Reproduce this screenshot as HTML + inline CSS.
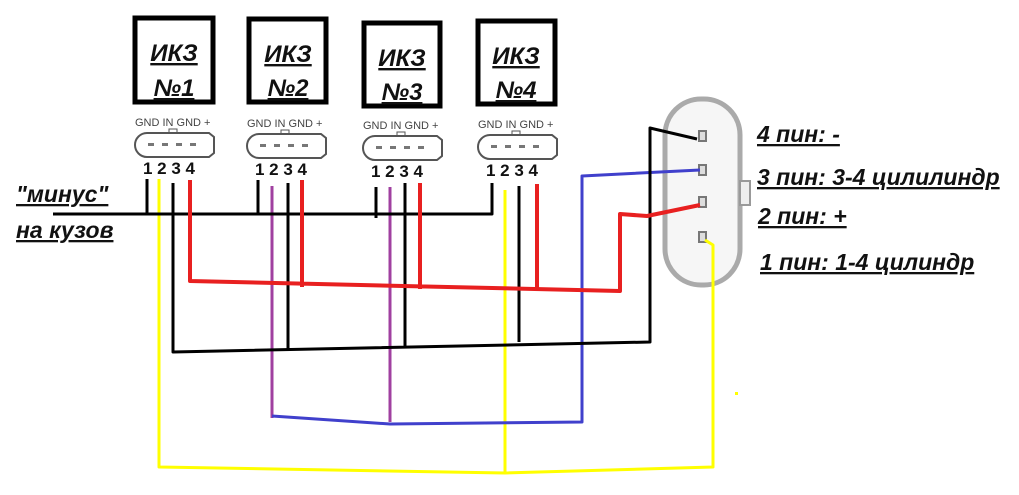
<!DOCTYPE html>
<html><head><meta charset="utf-8"><style>
html,body{margin:0;padding:0;background:#fff;width:1019px;height:495px;overflow:hidden}
svg{display:block}
.t{font-family:"Liberation Sans","DejaVu Sans",sans-serif;font-weight:bold;font-style:italic;text-decoration:underline;fill:#111}
.s{font-family:"Liberation Sans",sans-serif;font-size:11px;fill:#444}
.n{font-family:"Liberation Sans",sans-serif;font-size:17px;font-weight:bold;fill:#111}
</style></head><body>
<svg width="1019" height="495" viewBox="0 0 1019 495" xmlns="http://www.w3.org/2000/svg">
<g fill="none" stroke="#000" stroke-width="5">
<rect x="135" y="18" width="78" height="84"/>
<rect x="249" y="19" width="77" height="83"/>
<rect x="364" y="23" width="76" height="83"/>
<rect x="478" y="21" width="77" height="83"/>
</g>
<g class="t" font-size="24" text-anchor="middle">
<text x="174" y="61">ИКЗ</text><text x="174" y="96">№1</text>
<text x="288" y="62">ИКЗ</text><text x="288" y="96">№2</text>
<text x="402" y="66">ИКЗ</text><text x="402" y="100">№3</text>
<text x="516" y="64">ИКЗ</text><text x="516" y="98">№4</text>
</g>
<g>
<g transform="translate(133,0)">
<text class="s" x="2" y="126">GND  IN  GND  +</text>
<path d="M2 145 a12 12 0 0 1 12-12 h62 l5 4 v16 l-5 4 h-62 a12 12 0 0 1-12-12z" fill="none" stroke="#555" stroke-width="2"/>
<rect x="36" y="129" width="8" height="4" fill="none" stroke="#555"/>
<g fill="#777"><rect x="15" y="143" width="6" height="3"/><rect x="29" y="143" width="6" height="3"/><rect x="43" y="143" width="6" height="3"/><rect x="57" y="143" width="6" height="3"/></g>
<text class="n" x="10" y="174">1 2 3 4</text></g>
<g transform="translate(245,1)">
<text class="s" x="2" y="126">GND  IN  GND  +</text>
<path d="M2 145 a12 12 0 0 1 12-12 h62 l5 4 v16 l-5 4 h-62 a12 12 0 0 1-12-12z" fill="none" stroke="#555" stroke-width="2"/>
<rect x="36" y="129" width="8" height="4" fill="none" stroke="#555"/>
<g fill="#777"><rect x="15" y="143" width="6" height="3"/><rect x="29" y="143" width="6" height="3"/><rect x="43" y="143" width="6" height="3"/><rect x="57" y="143" width="6" height="3"/></g>
<text class="n" x="10" y="174">1 2 3 4</text></g>
<g transform="translate(361,3)">
<text class="s" x="2" y="126">GND  IN  GND  +</text>
<path d="M2 145 a12 12 0 0 1 12-12 h62 l5 4 v16 l-5 4 h-62 a12 12 0 0 1-12-12z" fill="none" stroke="#555" stroke-width="2"/>
<rect x="36" y="129" width="8" height="4" fill="none" stroke="#555"/>
<g fill="#777"><rect x="15" y="143" width="6" height="3"/><rect x="29" y="143" width="6" height="3"/><rect x="43" y="143" width="6" height="3"/><rect x="57" y="143" width="6" height="3"/></g>
<text class="n" x="10" y="174">1 2 3 4</text></g>
<g transform="translate(476,2)">
<text class="s" x="2" y="126">GND  IN  GND  +</text>
<path d="M2 145 a12 12 0 0 1 12-12 h62 l5 4 v16 l-5 4 h-62 a12 12 0 0 1-12-12z" fill="none" stroke="#555" stroke-width="2"/>
<rect x="36" y="129" width="8" height="4" fill="none" stroke="#555"/>
<g fill="#777"><rect x="15" y="143" width="6" height="3"/><rect x="29" y="143" width="6" height="3"/><rect x="43" y="143" width="6" height="3"/><rect x="57" y="143" width="6" height="3"/></g>
<text class="n" x="10" y="174">1 2 3 4</text></g>
</g>
<rect x="665" y="99" width="75" height="186" rx="36" fill="#f6f6f6" stroke="#aaa" stroke-width="5"/>
<rect x="740" y="181" width="10" height="24" fill="#eee" stroke="#999" stroke-width="2"/>
<g fill="#ddd" stroke="#777" stroke-width="2">
<rect x="699" y="131" width="7" height="10"/><rect x="699" y="165" width="7" height="10"/><rect x="699" y="197" width="7" height="10"/><rect x="699" y="232" width="7" height="10"/>
</g>
<g class="t" font-size="23">
<text x="757" y="142">4 пин: -</text>
<text x="757" y="185">3 пин: 3-4 цилилиндр</text>
<text x="758" y="224">2 пин: +</text>
<text x="760" y="270">1 пин: 1-4 цилиндр</text>
<text x="16" y="202">"минус"</text>
<text x="16" y="238">на кузов</text>
</g>
<g fill="none" stroke-width="3" stroke-linejoin="round">
<path stroke="#ff0" d="M159 179 V467 L505 473 L713 467 V245 L705 240 M505 190 V473"/>
<path stroke="#a040a0" d="M272 186 V418 M390 187 V422"/>
<path stroke="#4040cc" d="M272 416 L390 424 L582 422 V176 L700 170"/>
<path stroke="#000" d="M53 214 H492 V183 M147 179 V214 M258 180 V213 M376 187 V218 M173 183 V352 L650 342 V128 L697 139 M288 183 V349 M405 183 V348 M519 186 V342"/>
<path stroke="#e82020" stroke-width="4" d="M190 180 V281 L620 291 V214 L647 216 L700 205 M302 180 V287 M420 183 V289 M537 184 V291"/>
</g>
<rect x="735" y="392" width="3" height="3" fill="#ff0"/>
</svg>
</body></html>
